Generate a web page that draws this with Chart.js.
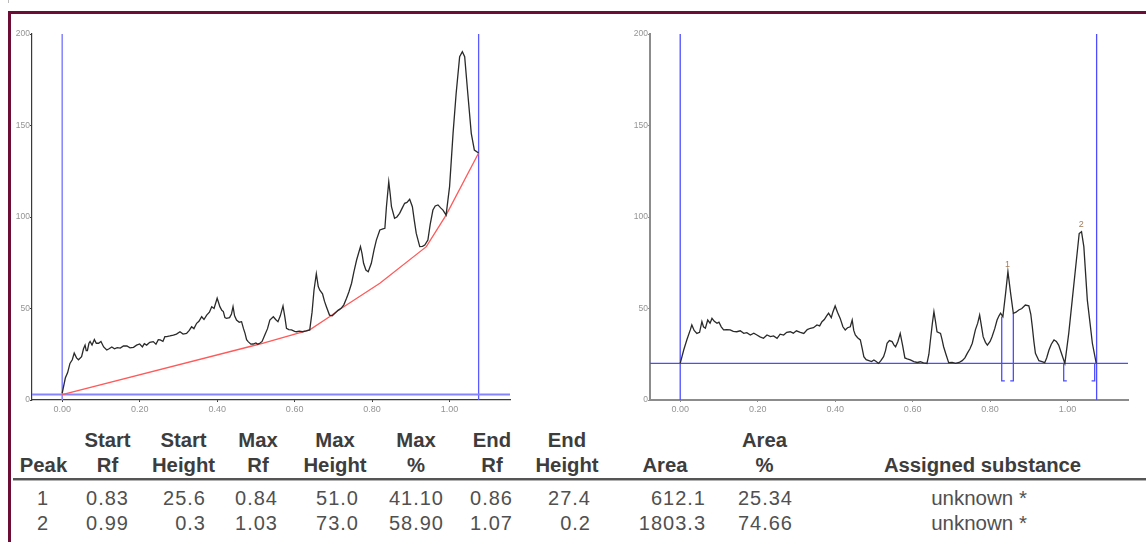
<!DOCTYPE html>
<html>
<head>
<meta charset="utf-8">
<script src="https://cdn.jsdelivr.net/npm/chart.js@4"></script>
<style>
  body { margin: 0; width: 1146px; height: 542px; overflow: hidden; background: #fff; position: relative;
         font-family: "Liberation Sans", Arial, sans-serif; }
  .mark { position: absolute; left: 8px; top: 0; width: 1px; height: 3px; background: #bbb; }
  .frame-top { position: absolute; left: 8px; top: 11px; width: 1138px; height: 2.5px; background: #6b0d34; }
  .frame-left { position: absolute; left: 8px; top: 11px; width: 2.5px; height: 531px; background: #6b0d34; }
  canvas { position: absolute; top: 0; }
  #left { left: 0; }
  #right { left: 600px; }
  .cell { position: absolute; font-size: 20px; line-height: 20px; white-space: nowrap; }
  .head { font-weight: bold; color: #3d3d3d; font-size: 20.3px; transform: translateX(-50%); }
  .val { color: #505050; letter-spacing: 1px; transform: translateX(-100%); }
  .val.center { letter-spacing: 0; font-size: 20.5px; transform: translateX(-50%); }
  .rule { position: absolute; left: 13px; top: 478px; width: 1133px; height: 1.5px; background: #555;
          border-bottom: 1.5px solid #b0b0b0; }
</style>
</head>
<body>
<div class="mark"></div>
<div class="frame-top"></div>
<div class="frame-left"></div>
<canvas id="left" width="520" height="420"></canvas>
<canvas id="right" width="546" height="420"></canvas>
<div class="rule"></div>
<div id="table"></div>
<script>
// axis ticks
const xTicks = [0, 0.2, 0.4, 0.6, 0.8, 1.0];
const yTicks = [0, 50, 100, 150, 200];
const xMin = -0.078, xMax = 1.156;

// application line and solvent front (Rf)
const startRf = 0;
const frontRf = 1.075;

// raw densitogram (left)
const leftRf = [0.000,0.008,0.014,0.020,0.026,0.031,0.037,0.042,0.050,0.055,0.059,0.062,0.065,0.069,0.072,0.077,0.083,0.088,0.094,0.100,
  0.107,0.115,0.121,0.128,0.135,0.142,0.150,0.158,0.167,0.175,0.184,0.192,0.200,0.207,0.212,0.218,0.226,0.235,0.242,0.248,
  0.253,0.260,0.265,0.270,0.278,0.287,0.295,0.304,0.312,0.321,0.328,0.334,0.340,0.347,0.353,0.360,0.366,0.373,0.380,0.386,
  0.392,0.400,0.404,0.407,0.412,0.416,0.420,0.424,0.432,0.437,0.441,0.445,0.450,0.457,0.463,0.468,0.472,0.476,0.480,0.487,
  0.493,0.500,0.505,0.510,0.516,0.523,0.530,0.536,0.545,0.551,0.557,0.563,0.570,0.575,0.579,0.585,0.592,0.600,0.605,0.612,
  0.620,0.630,0.639,0.645,0.650,0.656,0.661,0.665,0.672,0.677,0.682,0.690,0.697,0.704,0.712,0.720,0.727,0.734,0.740,0.747,
  0.753,0.760,0.770,0.774,0.778,0.784,0.790,0.798,0.805,0.811,0.820,0.828,0.833,0.837,0.843,0.847,0.850,0.858,0.864,0.871,
  0.878,0.884,0.890,0.897,0.904,0.909,0.914,0.923,0.930,0.936,0.944,0.950,0.957,0.963,0.970,0.977,0.983,0.991,1.000,1.009,
  1.017,1.026,1.033,1.039,1.047,1.056,1.064,1.075];
const leftHeight = [3.7,12,15,20,22,25.6,23,22,23.7,28,30,27,27,31,32,30,33,31,31,32,
  29,27.3,28,29,28,28.6,28.4,29.5,29.5,28.5,28.8,30,30.6,29,30.8,30,31.5,31.9,30.5,33,
  32.8,32,34.6,34.6,35,35.5,36,37.3,36,36.4,38,40,39,41.9,43,45.5,44,46.4,48,51,
  50,55.6,53,51,49,48.3,45,44.6,45,47,51,46,43.7,42.5,42.8,39,36.4,33,31.9,30.5,
  30.6,31.2,30.5,31,32,35.5,39,43.7,45.5,44,42.8,46,51.4,45,39.2,38.5,38.3,37.5,37.3,37.6,
  37.3,37.8,38.3,48,60,69,62,60,58,54,51,46.4,46,47.4,49,50.1,52,55.6,59,63.8,
  70,76.5,83.8,80,74.7,71,70.1,74.7,82,87.4,92.9,93.5,93.8,105.6,119.3,112,105.6,99.3,100,102,
  105,107.5,108,109.7,105.6,98,91,83.8,84,84.7,87.4,96,103.8,106,106.6,105,103.8,101,116.6,145.7,
  167.6,187.6,190.3,187.6,167.6,145.7,136.6,135];

// fitted baseline (left)
const baseRf = [0, 0.51, 0.639, 0.69, 0.72, 0.82, 0.94, 0.991, 1.075];
const baseHeight = [3, 30.6, 38.3, 45.5, 50, 63.8, 83.8, 101, 135];
const leftLevel = 3;

// baseline-corrected densitogram (right)
const rightRf = [0.000,0.009,0.017,0.026,0.030,0.036,0.043,0.050,0.056,0.060,0.065,0.071,0.077,0.082,0.088,0.095,0.100,0.106,0.112,0.120,
  0.129,0.137,0.146,0.155,0.164,0.172,0.181,0.190,0.198,0.206,0.215,0.224,0.233,0.241,0.250,0.258,0.267,0.275,0.284,0.292,
  0.300,0.310,0.319,0.328,0.336,0.344,0.353,0.360,0.366,0.372,0.378,0.383,0.390,0.394,0.400,0.406,0.413,0.420,0.426,0.432,
  0.439,0.444,0.448,0.452,0.458,0.465,0.470,0.474,0.480,0.487,0.494,0.500,0.506,0.512,0.518,0.525,0.530,0.534,0.540,0.547,
  0.552,0.556,0.562,0.568,0.574,0.580,0.586,0.594,0.603,0.612,0.620,0.628,0.637,0.642,0.646,0.651,0.655,0.659,0.663,0.672,
  0.676,0.680,0.686,0.693,0.702,0.711,0.720,0.728,0.735,0.741,0.748,0.754,0.762,0.768,0.773,0.778,0.782,0.788,0.793,0.800,
  0.805,0.812,0.818,0.823,0.827,0.833,0.840,0.846,0.853,0.860,0.867,0.874,0.882,0.891,0.900,0.905,0.909,0.913,0.917,0.926,
  0.934,0.941,0.946,0.952,0.958,0.965,0.971,0.977,0.985,0.993,1.003,1.012,1.021,1.030,1.036,1.042,1.051,1.058,1.064,1.074];
const rightHeight = [20,27.3,32.8,38.3,41,38,36.4,37,42.8,40,39.2,43.7,42,44.6,43,41.9,42.5,40,38.3,38.5,
  38.3,37.5,37.3,37.8,36.4,36.8,35.5,36.5,35.5,34.5,33.7,35.5,34.6,35,33.7,36,35.5,37,37.3,36.5,
  37.8,37,36.4,38.5,39.2,39.5,41,40.5,42.8,44,46,47.4,45,48,51.4,48,44.6,40,38.3,39.5,
  40,43.7,38,35.5,34,32.8,28,23.7,22,21.5,21,21.9,21,20,21.5,23.7,27,31,32.5,31.9,
  30,29.1,32,36.4,30,23,22.5,21.9,21,20.5,20.9,20.3,20,25,32.8,42,48.3,43,37.3,36.4,
  33,29.1,25,20.4,20.5,20,20.5,21.5,23,25.5,28,31,38.3,42,46.4,40,34.6,31.5,30,32,
  34.6,39,43.7,46,47.4,45.5,58.3,70.1,58.3,47.4,48,49.2,50,51.9,51.5,47,40,32,25.5,21.5,
  21,20.4,23,27.3,30.5,32.8,32,30,25,20,36.4,54.6,72.8,91,92,83.8,54.6,42,31,20];
const rightLevel = 20;

// peak table
const peakNo = [1, 2];
const startRfs = ["0.83", "0.99"];
const startHeights = ["25.6", "0.3"];
const maxRfs = ["0.84", "1.03"];
const maxHeights = ["51.0", "73.0"];
const maxPcts = ["41.10", "58.90"];
const endRfs = ["0.86", "1.07"];
const endHeights = ["27.4", "0.2"];
const areas = ["612.1", "1803.3"];
const areaPcts = ["25.34", "74.66"];
const substances = ["unknown *", "unknown *"];

const headTop = ["", "Start", "Start", "Max", "Max", "Max", "End", "End", "", "Area", ""];
const headBottom = ["Peak", "Rf", "Height", "Rf", "Height", "%", "Rf", "Height", "Area", "%", "Assigned substance"];

const pts = (xs, ys) => xs.map((x, i) => ({ x: x, y: ys[i] }));
const font = '"Liberation Sans", Arial, sans-serif';

function scales(axisColor, axisWidth) {
  return {
    x: {
      type: "linear", min: xMin, max: xMax,
      afterBuildTicks: s => { s.ticks = xTicks.map(v => ({ value: v })); },
      afterFit: s => { s.height = 20; },
      ticks: { color: "#949494", font: { size: 9, family: font }, padding: 2, callback: v => v.toFixed(2) },
      grid: { drawOnChartArea: false, tickLength: 2, color: axisColor },
      border: { color: axisColor, width: axisWidth },
    },
    y: {
      min: 0, max: 200,
      afterBuildTicks: s => { s.ticks = yTicks.map(v => ({ value: v })); },
      afterFit: s => { s.width = 24; },
      ticks: { color: "#949494", font: { size: 8.5, family: font }, padding: 0 },
      grid: { drawOnChartArea: false, tickLength: 2, color: axisColor },
      border: { color: axisColor, width: axisWidth },
    },
  };
}

function line(data, color, width) {
  return { data: data, borderColor: color, borderWidth: width, pointRadius: 0, tension: 0, fill: false, spanGaps: false };
}

const common = {
  responsive: false, animation: false, events: [],
  plugins: { legend: { display: false }, tooltip: { enabled: false } },
};

new Chart(document.getElementById("left"), {
  type: "line",
  data: {
    datasets: [
      line(pts(leftRf, leftHeight), "#2a2a2a", 1.3),
      line(pts(baseRf, baseHeight), "#ff5a5a", 1.3),
      line([{ x: xMin, y: leftLevel }, { x: xMax, y: leftLevel }], "#8585ff", 2),
      line([{ x: startRf, y: 0 }, { x: startRf, y: 200 }], "#8a8aff", 1.6),
      line([{ x: frontRf, y: 0 }, { x: frontRf, y: 200 }], "#5a5aff", 1.3),
    ],
  },
  options: { ...common, layout: { padding: { left: 8, top: 34, right: 10, bottom: 0 } }, scales: scales("#3a3a3a", 1.2) },
});

// peak brackets under the corrected trace
const brackets = [];
const bracketLevel = 10.5, tick = 0.008;
peakNo.forEach((n, i) => {
  const s = +startRfs[i], e = +endRfs[i];
  brackets.push(line([
    { x: s, y: rightLevel + +startHeights[i] }, { x: s, y: bracketLevel }, { x: s + tick, y: bracketLevel },
    { x: (s + e) / 2, y: null },
    { x: e - tick, y: bracketLevel }, { x: e, y: bracketLevel }, { x: e, y: rightLevel + +endHeights[i] },
  ], "#4d4dff", 1.3));
});

const peakLabels = {
  id: "peakLabels",
  afterDatasetsDraw(chart) {
    const { ctx, scales: { x, y } } = chart;
    ctx.save();
    ctx.font = "9px " + font;
    ctx.fillStyle = "#a27c58";
    ctx.textAlign = "center";
    ctx.textBaseline = "bottom";
    peakNo.forEach((n, i) => {
      ctx.fillText(String(n), x.getPixelForValue(+maxRfs[i]) + 2, y.getPixelForValue(rightLevel + +maxHeights[i]) - 1);
    });
    ctx.restore();
  },
};

new Chart(document.getElementById("right"), {
  type: "line",
  data: {
    datasets: [
      line(pts(rightRf, rightHeight), "#2a2a2a", 1.3),
      ...brackets,
      line([{ x: xMin, y: rightLevel }, { x: xMax, y: rightLevel }], "#4d4dff", 1.3),
      line([{ x: startRf, y: 0 }, { x: startRf, y: 200 }], "#4d4dff", 1.3),
      line([{ x: frontRf, y: 0 }, { x: frontRf, y: 200 }], "#4d4dff", 1.3),
    ],
  },
  options: { ...common, layout: { padding: { left: 26, top: 34, right: 18, bottom: 0 } }, scales: scales("#8c8c8c", 2) },
  plugins: [peakLabels],
});

// table (text positions in page pixels)
const headCenter = [43.5, 107.5, 183.5, 258, 335, 416, 492, 567, 665, 764.5, 982.5];
const valueRight = [49, 129, 206, 278, 359, 444, 513, 591, 706, 793, 979];
const columns = [peakNo.map(String), startRfs, startHeights, maxRfs, maxHeights, maxPcts, endRfs, endHeights, areas, areaPcts, substances];
const rowTop = [488, 513];
const table = document.getElementById("table");
function cell(cls, text, left, top) {
  const d = document.createElement("div");
  d.className = "cell " + cls;
  d.textContent = text;
  d.style.left = left + "px";
  d.style.top = top + "px";
  table.appendChild(d);
}
headBottom.forEach((h, c) => {
  if (headTop[c]) cell("head", headTop[c], headCenter[c], 430);
  cell("head", h, headCenter[c], 455);
  columns[c].forEach((v, r) => cell(c === columns.length - 1 ? "val center" : "val", v, valueRight[c], rowTop[r]));
});
</script>
</body>
</html>
